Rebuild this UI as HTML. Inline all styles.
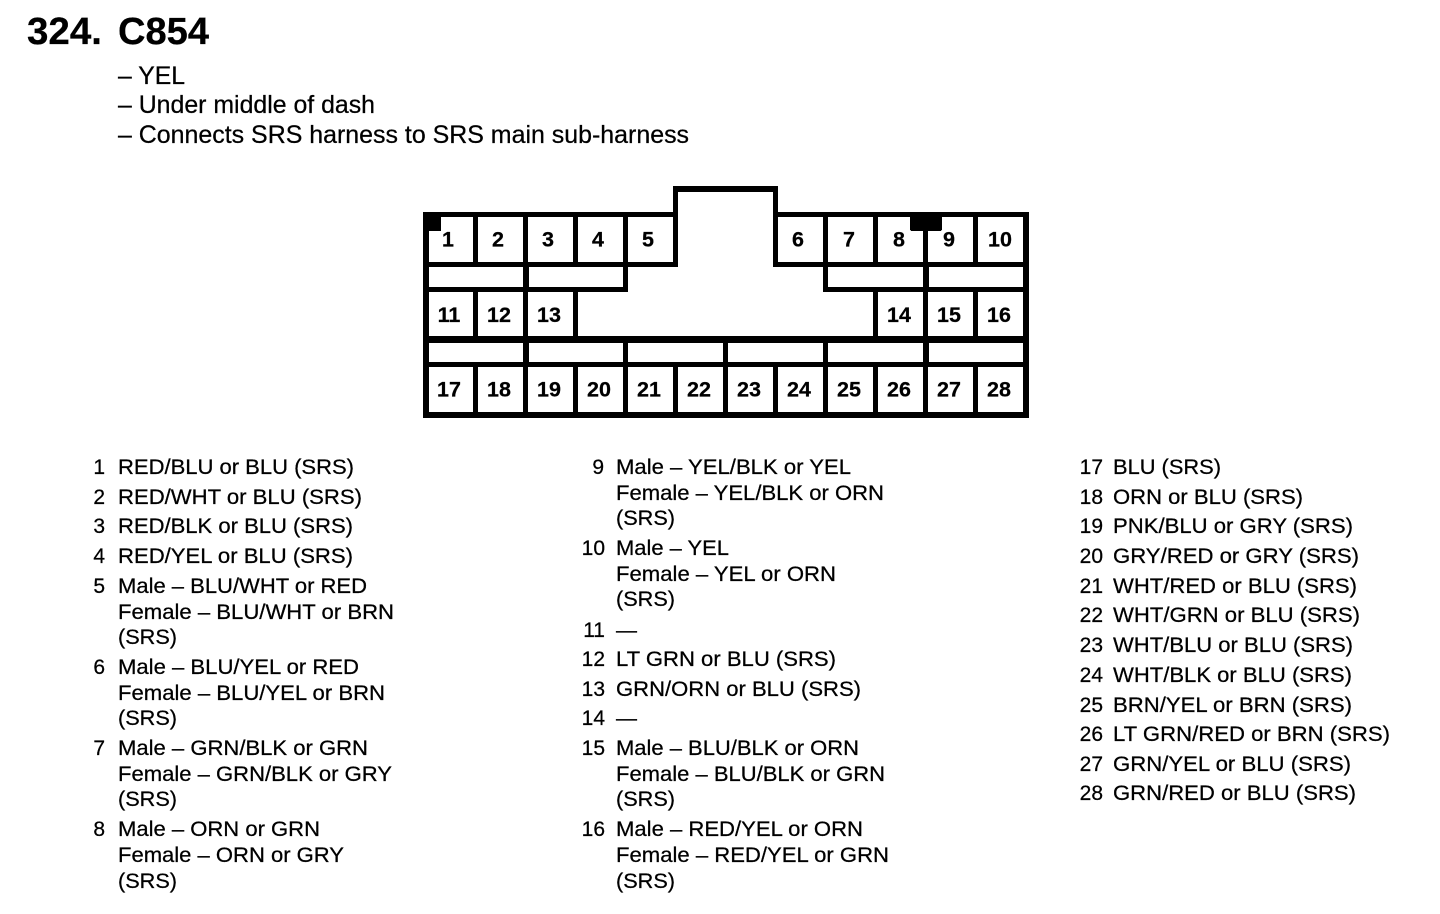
<!DOCTYPE html>
<html><head><meta charset="utf-8"><title>324. C854</title>
<style>
html,body{margin:0;padding:0;background:#fff;width:1440px;height:914px;overflow:hidden}
svg{display:block}
text{font-family:"Liberation Sans",Arial,sans-serif;fill:#000;stroke:#000;stroke-width:.25}
.b{font-size:21px}
.h{font-size:25px}
.t{font-size:38px;font-weight:bold}
.p{font-size:21.5px;font-weight:bold;text-anchor:middle}
.n{font-size:21px;text-anchor:end}
</style></head><body>
<svg width="1440" height="914" viewBox="0 0 1440 914" xmlns="http://www.w3.org/2000/svg">
<rect width="1440" height="914" fill="#fff"/>
<g fill="#000" shape-rendering="crispEdges">
<rect x="423" y="212" width="255" height="5"/><rect x="773" y="212" width="256" height="5"/>
<rect x="673" y="186" width="105" height="6"/>
<rect x="673" y="186" width="5" height="81"/><rect x="773" y="186" width="5" height="81"/>
<rect x="423" y="262" width="255" height="5"/><rect x="773" y="262" width="256" height="5"/>
<rect x="423" y="287" width="205" height="5"/><rect x="823" y="287" width="206" height="5"/>
<rect x="623" y="262" width="5" height="30"/><rect x="823" y="262" width="5" height="30"/>
<rect x="423" y="336" width="606" height="7"/>
<rect x="423" y="362" width="606" height="5"/>
<rect x="423" y="412" width="606" height="6"/>
<rect x="423" y="212" width="6" height="206"/><rect x="1023" y="212" width="6" height="206"/>
<rect x="473" y="212" width="5" height="55"/><rect x="523" y="212" width="5" height="55"/><rect x="573" y="212" width="5" height="55"/><rect x="623" y="212" width="5" height="55"/>
<rect x="823" y="212" width="5" height="55"/><rect x="873" y="212" width="5" height="55"/><rect x="923" y="212" width="5" height="55"/><rect x="973" y="212" width="5" height="55"/>
<rect x="523" y="267" width="6" height="20"/><rect x="923" y="267" width="6" height="20"/>
<rect x="473" y="292" width="5" height="44"/><rect x="523" y="292" width="5" height="44"/><rect x="573" y="292" width="5" height="44"/>
<rect x="873" y="292" width="5" height="44"/><rect x="923" y="292" width="5" height="44"/><rect x="973" y="292" width="5" height="44"/>
<rect x="523" y="343" width="6" height="19"/><rect x="623" y="343" width="5" height="19"/><rect x="723" y="343" width="5" height="19"/><rect x="823" y="343" width="5" height="19"/><rect x="923" y="343" width="6" height="19"/>
<rect x="473" y="367" width="5" height="45"/><rect x="523" y="367" width="5" height="45"/><rect x="573" y="367" width="5" height="45"/><rect x="623" y="367" width="5" height="45"/><rect x="673" y="367" width="5" height="45"/><rect x="723" y="367" width="5" height="45"/><rect x="773" y="367" width="5" height="45"/><rect x="823" y="367" width="5" height="45"/><rect x="873" y="367" width="5" height="45"/><rect x="923" y="367" width="5" height="45"/><rect x="973" y="367" width="5" height="45"/>
<rect x="423" y="212" width="18" height="19"/>
<rect x="910" y="212" width="32" height="19" rx="2"/>
</g>

<text class="t" x="27" y="44" textLength="75" lengthAdjust="spacingAndGlyphs">324.</text>
<text class="t" x="118" y="44" textLength="91" lengthAdjust="spacingAndGlyphs">C854</text>
<text class="h" x="118" y="84" textLength="67" lengthAdjust="spacingAndGlyphs">– YEL</text>
<text class="h" x="118" y="113" textLength="257" lengthAdjust="spacingAndGlyphs">– Under middle of dash</text>
<text class="h" x="118" y="143" textLength="571" lengthAdjust="spacingAndGlyphs">– Connects SRS harness to SRS main sub-harness</text>

<g>
<text class="p" x="448" y="246.5">1</text><text class="p" x="498" y="246.5">2</text><text class="p" x="548" y="246.5">3</text><text class="p" x="598" y="246.5">4</text><text class="p" x="648" y="246.5">5</text><text class="p" x="798" y="246.5">6</text><text class="p" x="849" y="246.5">7</text><text class="p" x="899" y="246.5">8</text><text class="p" x="949" y="246.5">9</text><text class="p" x="1000" y="246.5">10</text>
<text class="p" x="449" y="322">11</text><text class="p" x="499" y="322">12</text><text class="p" x="549" y="322">13</text><text class="p" x="899" y="322">14</text><text class="p" x="949" y="322">15</text><text class="p" x="999" y="322">16</text>
<text class="p" x="449" y="396.5">17</text><text class="p" x="499" y="396.5">18</text><text class="p" x="549" y="396.5">19</text><text class="p" x="599" y="396.5">20</text><text class="p" x="649" y="396.5">21</text><text class="p" x="699" y="396.5">22</text><text class="p" x="749" y="396.5">23</text><text class="p" x="799" y="396.5">24</text><text class="p" x="849" y="396.5">25</text><text class="p" x="899" y="396.5">26</text><text class="p" x="949" y="396.5">27</text><text class="p" x="999" y="396.5">28</text>
</g>

<g>
<text class="n" x="105" y="474">1</text><text class="b" x="118" y="474" textLength="236" lengthAdjust="spacingAndGlyphs">RED/BLU or BLU (SRS)</text>
<text class="n" x="105" y="504">2</text><text class="b" x="118" y="504" textLength="244" lengthAdjust="spacingAndGlyphs">RED/WHT or BLU (SRS)</text>
<text class="n" x="105" y="533">3</text><text class="b" x="118" y="533" textLength="235" lengthAdjust="spacingAndGlyphs">RED/BLK or BLU (SRS)</text>
<text class="n" x="105" y="563">4</text><text class="b" x="118" y="563" textLength="235" lengthAdjust="spacingAndGlyphs">RED/YEL or BLU (SRS)</text>
<text class="n" x="105" y="593">5</text><text class="b" x="118" y="593" textLength="249" lengthAdjust="spacingAndGlyphs">Male – BLU/WHT or RED</text>
<text class="b" x="118" y="619" textLength="276" lengthAdjust="spacingAndGlyphs">Female – BLU/WHT or BRN</text>
<text class="b" x="118" y="644" textLength="59" lengthAdjust="spacingAndGlyphs">(SRS)</text>
<text class="n" x="105" y="674">6</text><text class="b" x="118" y="674" textLength="241" lengthAdjust="spacingAndGlyphs">Male – BLU/YEL or RED</text>
<text class="b" x="118" y="700" textLength="267" lengthAdjust="spacingAndGlyphs">Female – BLU/YEL or BRN</text>
<text class="b" x="118" y="725" textLength="59" lengthAdjust="spacingAndGlyphs">(SRS)</text>
<text class="n" x="105" y="755">7</text><text class="b" x="118" y="755" textLength="250" lengthAdjust="spacingAndGlyphs">Male – GRN/BLK or GRN</text>
<text class="b" x="118" y="781" textLength="274" lengthAdjust="spacingAndGlyphs">Female – GRN/BLK or GRY</text>
<text class="b" x="118" y="806" textLength="59" lengthAdjust="spacingAndGlyphs">(SRS)</text>
<text class="n" x="105" y="836">8</text><text class="b" x="118" y="836" textLength="202" lengthAdjust="spacingAndGlyphs">Male – ORN or GRN</text>
<text class="b" x="118" y="862" textLength="226" lengthAdjust="spacingAndGlyphs">Female – ORN or GRY</text>
<text class="b" x="118" y="888" textLength="59" lengthAdjust="spacingAndGlyphs">(SRS)</text>
</g>

<g>
<text class="n" x="604" y="474">9</text><text class="b" x="616" y="474" textLength="235" lengthAdjust="spacingAndGlyphs">Male – YEL/BLK or YEL</text>
<text class="b" x="616" y="500" textLength="268" lengthAdjust="spacingAndGlyphs">Female – YEL/BLK or ORN</text>
<text class="b" x="616" y="525" textLength="59" lengthAdjust="spacingAndGlyphs">(SRS)</text>
<text class="n" x="605" y="555">10</text><text class="b" x="616" y="555" textLength="113" lengthAdjust="spacingAndGlyphs">Male – YEL</text>
<text class="b" x="616" y="581" textLength="220" lengthAdjust="spacingAndGlyphs">Female – YEL or ORN</text>
<text class="b" x="616" y="606" textLength="59" lengthAdjust="spacingAndGlyphs">(SRS)</text>
<text class="n" x="605" y="637">11</text><text class="b" x="616" y="637" textLength="21" lengthAdjust="spacingAndGlyphs">—</text>
<text class="n" x="605" y="666">12</text><text class="b" x="616" y="666" textLength="220" lengthAdjust="spacingAndGlyphs">LT GRN or BLU (SRS)</text>
<text class="n" x="605" y="696">13</text><text class="b" x="616" y="696" textLength="245" lengthAdjust="spacingAndGlyphs">GRN/ORN or BLU (SRS)</text>
<text class="n" x="605" y="725">14</text><text class="b" x="616" y="725" textLength="21" lengthAdjust="spacingAndGlyphs">—</text>
<text class="n" x="605" y="755">15</text><text class="b" x="616" y="755" textLength="243" lengthAdjust="spacingAndGlyphs">Male – BLU/BLK or ORN</text>
<text class="b" x="616" y="781" textLength="269" lengthAdjust="spacingAndGlyphs">Female – BLU/BLK or GRN</text>
<text class="b" x="616" y="806" textLength="59" lengthAdjust="spacingAndGlyphs">(SRS)</text>
<text class="n" x="605" y="836">16</text><text class="b" x="616" y="836" textLength="247" lengthAdjust="spacingAndGlyphs">Male – RED/YEL or ORN</text>
<text class="b" x="616" y="862" textLength="273" lengthAdjust="spacingAndGlyphs">Female – RED/YEL or GRN</text>
<text class="b" x="616" y="888" textLength="59" lengthAdjust="spacingAndGlyphs">(SRS)</text>
</g>

<g>
<text class="n" x="1103" y="474">17</text><text class="b" x="1113" y="474" textLength="108" lengthAdjust="spacingAndGlyphs">BLU (SRS)</text>
<text class="n" x="1103" y="504">18</text><text class="b" x="1113" y="504" textLength="190" lengthAdjust="spacingAndGlyphs">ORN or BLU (SRS)</text>
<text class="n" x="1103" y="533">19</text><text class="b" x="1113" y="533" textLength="240" lengthAdjust="spacingAndGlyphs">PNK/BLU or GRY (SRS)</text>
<text class="n" x="1103" y="563">20</text><text class="b" x="1113" y="563" textLength="246" lengthAdjust="spacingAndGlyphs">GRY/RED or GRY (SRS)</text>
<text class="n" x="1103" y="593">21</text><text class="b" x="1113" y="593" textLength="244" lengthAdjust="spacingAndGlyphs">WHT/RED or BLU (SRS)</text>
<text class="n" x="1103" y="622">22</text><text class="b" x="1113" y="622" textLength="247" lengthAdjust="spacingAndGlyphs">WHT/GRN or BLU (SRS)</text>
<text class="n" x="1103" y="652">23</text><text class="b" x="1113" y="652" textLength="240" lengthAdjust="spacingAndGlyphs">WHT/BLU or BLU (SRS)</text>
<text class="n" x="1103" y="682">24</text><text class="b" x="1113" y="682" textLength="239" lengthAdjust="spacingAndGlyphs">WHT/BLK or BLU (SRS)</text>
<text class="n" x="1103" y="712">25</text><text class="b" x="1113" y="712" textLength="239" lengthAdjust="spacingAndGlyphs">BRN/YEL or BRN (SRS)</text>
<text class="n" x="1103" y="741">26</text><text class="b" x="1113" y="741" textLength="277" lengthAdjust="spacingAndGlyphs">LT GRN/RED or BRN (SRS)</text>
<text class="n" x="1103" y="771">27</text><text class="b" x="1113" y="771" textLength="238" lengthAdjust="spacingAndGlyphs">GRN/YEL or BLU (SRS)</text>
<text class="n" x="1103" y="800">28</text><text class="b" x="1113" y="800" textLength="243" lengthAdjust="spacingAndGlyphs">GRN/RED or BLU (SRS)</text>
</g>
</svg>
</body></html>
